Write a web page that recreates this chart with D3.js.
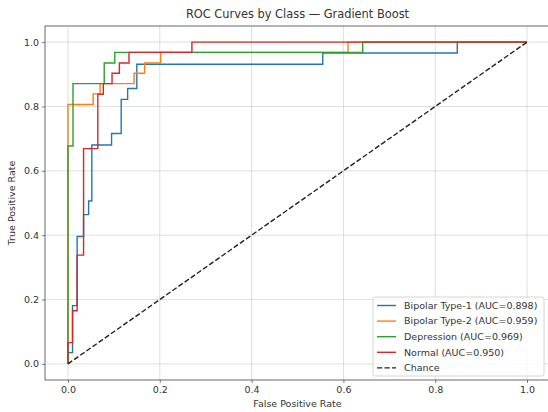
<!DOCTYPE html>
<html>
<head>
<meta charset="utf-8">
<script src="https://cdn.jsdelivr.net/npm/d3@7"></script>
<style>
  body { margin: 0; background: #fff; }
  text { font-family: "DejaVu Sans", sans-serif; fill: #333; }
</style>
</head>
<body>
<svg id="chart" width="548" height="412"></svg>
<script>
// ROC points (fpr, tpr)
var b1Fpr = [0, 0, 0.010, 0.010, 0.020, 0.020, 0.034, 0.034, 0.045, 0.045, 0.052, 0.052, 0.095, 0.095, 0.116, 0.116, 0.130, 0.130, 0.150, 0.150, 0.555, 0.555, 0.848, 0.848, 1];
var b1Tpr = [0, 0.035, 0.035, 0.181, 0.181, 0.396, 0.396, 0.464, 0.464, 0.506, 0.506, 0.680, 0.680, 0.716, 0.716, 0.822, 0.822, 0.856, 0.856, 0.931, 0.931, 0.966, 0.966, 1, 1];

var b2Fpr = [0, 0, 0.055, 0.055, 0.070, 0.070, 0.144, 0.144, 0.167, 0.167, 0.202, 0.202, 0.610, 0.610, 1];
var b2Tpr = [0, 0.806, 0.806, 0.839, 0.839, 0.871, 0.871, 0.903, 0.903, 0.935, 0.935, 0.968, 0.968, 1, 1];

var depFpr = [0, 0, 0.011, 0.011, 0.079, 0.079, 0.102, 0.102, 0.642, 0.642, 1];
var depTpr = [0, 0.677, 0.677, 0.871, 0.871, 0.935, 0.935, 0.968, 0.968, 1, 1];

var normFpr = [0, 0, 0.010, 0.010, 0.020, 0.020, 0.034, 0.034, 0.065, 0.065, 0.077, 0.077, 0.096, 0.096, 0.112, 0.112, 0.133, 0.133, 0.270, 0.270, 1];
var normTpr = [0, 0.066, 0.066, 0.165, 0.165, 0.338, 0.338, 0.669, 0.669, 0.838, 0.838, 0.871, 0.871, 0.903, 0.903, 0.935, 0.935, 0.968, 0.968, 1, 1];

var classNames = ["Bipolar Type-1", "Bipolar Type-2", "Depression", "Normal"];
var aucValues = [0.898, 0.959, 0.969, 0.950];
var colors = ["#1f77b4", "#ff7f0e", "#2ca02c", "#d62728"];
var ticks = [0.0, 0.2, 0.4, 0.6, 0.8, 1.0];

var series = [
  {fpr: b1Fpr, tpr: b1Tpr},
  {fpr: b2Fpr, tpr: b2Tpr},
  {fpr: depFpr, tpr: depTpr},
  {fpr: normFpr, tpr: normTpr}
];

var svg = d3.select("#chart");

var plotLeft = 45, plotRight = 550, plotTop = 26, plotBottom = 380;

var x = d3.scaleLinear().domain([-0.05, 1.05]).range([plotLeft, plotRight]);
var y = d3.scaleLinear().domain([-0.05, 1.05]).range([plotBottom, plotTop]);

// grid
var grid = svg.append("g");
grid.selectAll(".gx")
    .data(ticks)
    .enter()
    .append("line")
    .attr("x1", function (d) { return x(d); })
    .attr("x2", function (d) { return x(d); })
    .attr("y1", plotTop)
    .attr("y2", plotBottom)
    .attr("stroke", "#b0b0b0")
    .attr("stroke-opacity", 0.5)
    .attr("stroke-width", 0.8);
grid.selectAll(".gy")
    .data(ticks)
    .enter()
    .append("line")
    .attr("x1", plotLeft)
    .attr("x2", plotRight)
    .attr("y1", function (d) { return y(d); })
    .attr("y2", function (d) { return y(d); })
    .attr("stroke", "#b0b0b0")
    .attr("stroke-opacity", 0.5)
    .attr("stroke-width", 0.8);

// axes
var xAxis = svg.append("g")
    .attr("transform", "translate(0," + plotBottom + ")")
    .call(d3.axisBottom(x).tickValues(ticks).tickFormat(d3.format(".1f")).tickSize(3).tickPadding(3));
var yAxis = svg.append("g")
    .attr("transform", "translate(" + plotLeft + ",0)")
    .call(d3.axisLeft(y).tickValues(ticks).tickFormat(d3.format(".1f")).tickSize(3).tickPadding(3));

[xAxis, yAxis].forEach(function (a) {
  a.select(".domain").remove();
  a.selectAll(".tick line").attr("stroke", "#444").attr("stroke-width", 0.7);
  a.selectAll(".tick text")
    .style("font-family", "DejaVu Sans, sans-serif")
    .style("font-size", "9.5px")
    .attr("fill", "#333");
});

// frame
svg.append("rect")
    .attr("x", plotLeft)
    .attr("y", plotTop)
    .attr("width", plotRight - plotLeft)
    .attr("height", plotBottom - plotTop)
    .attr("fill", "none")
    .attr("stroke", "#444")
    .attr("stroke-width", 0.8);

var line = d3.line()
    .x(function (d) { return x(d[0]); })
    .y(function (d) { return y(d[1]); });

// ROC curves
var curves = svg.append("g");
series.forEach(function (s, i) {
  var pts = s.fpr.map(function (f, j) { return [f, s.tpr[j]]; });
  curves.append("path")
      .datum(pts)
      .attr("d", line)
      .attr("fill", "none")
      .attr("stroke", colors[i])
      .attr("stroke-width", 1.4)
      .attr("stroke-linejoin", "miter");
});

// chance line
curves.append("path")
    .datum([[0, 0], [1, 1]])
    .attr("d", line)
    .attr("fill", "none")
    .attr("stroke", "#222")
    .attr("stroke-width", 1.4)
    .attr("stroke-dasharray", "5.2,2.3");

// title and labels
svg.append("text")
    .attr("x", (plotLeft + plotRight) / 2)
    .attr("y", 18)
    .attr("text-anchor", "middle")
    .style("font-size", "11.4px")
    .text("ROC Curves by Class \u2014 Gradient Boost");

svg.append("text")
    .attr("x", (plotLeft + plotRight) / 2)
    .attr("y", 407)
    .attr("text-anchor", "middle")
    .style("font-size", "9.5px")
    .text("False Positive Rate");

svg.append("text")
    .attr("transform", "translate(15," + ((plotTop + plotBottom) / 2) + ") rotate(-90)")
    .attr("text-anchor", "middle")
    .style("font-size", "9.5px")
    .text("True Positive Rate");

// legend
var legendItems = classNames.map(function (n, i) {
  return {label: n + " (AUC=" + aucValues[i].toFixed(3) + ")", color: colors[i], dash: null};
});
legendItems.push({label: "Chance", color: "#222", dash: "5.2,2.3"});

var legend = svg.append("g").attr("transform", "translate(373,297)");
legend.append("rect")
    .attr("width", 171)
    .attr("height", 79)
    .attr("rx", 2.5)
    .attr("fill", "#fff")
    .attr("fill-opacity", 0.8)
    .attr("stroke", "#ccc")
    .attr("stroke-width", 0.8);

var rows = legend.selectAll(".row")
    .data(legendItems)
    .enter()
    .append("g")
    .attr("transform", function (d, i) { return "translate(0," + (8.5 + i * 15.6) + ")"; });
rows.append("line")
    .attr("x1", 4)
    .attr("x2", 23)
    .attr("stroke", function (d) { return d.color; })
    .attr("stroke-width", 1.4)
    .attr("stroke-dasharray", function (d) { return d.dash; });
rows.append("text")
    .attr("x", 31)
    .attr("dy", "0.35em")
    .style("font-size", "9.5px")
    .text(function (d) { return d.label; });
</script>
</body>
</html>
